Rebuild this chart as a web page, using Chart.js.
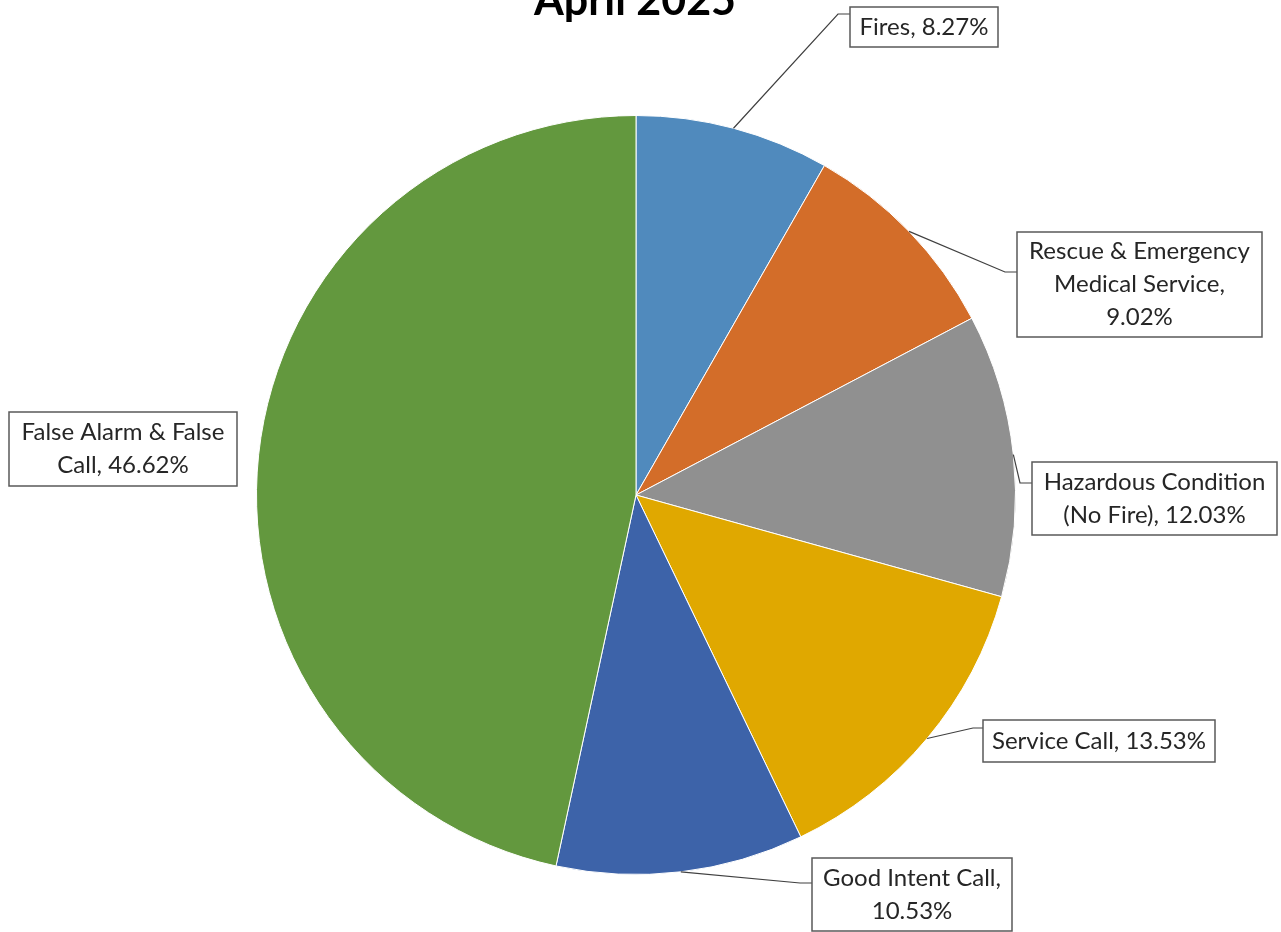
<!DOCTYPE html>
<html>
<head>
<meta charset="utf-8">
<title>April 2025</title>
<script src="https://cdn.jsdelivr.net/npm/chart.js@4.4.1/dist/chart.umd.min.js"></script>
<style>
    body { margin: 0; background: #ffffff; }
    #chart { display: block; }
</style>
</head>
<body>
<canvas id="chart" width="1281" height="932"></canvas>
<script>
// ========================================
// DATA
// ========================================

const chartTitle = 'April 2025';

const categories = [
    'Fires',
    'Rescue & Emergency Medical Service',
    'Hazardous Condition (No Fire)',
    'Service Call',
    'Good Intent Call',
    'False Alarm & False Call'
];

const percentages = [8.27, 9.02, 12.03, 13.53, 10.53, 46.62];

const sliceColors = ['#508abd', '#d36d29', '#909090', '#e0a800', '#3d63a9', '#63983e'];

// ========================================
// LABEL LAYOUT (box position, elbow of leader line, wrap width)
// ========================================

const labelLayout = [
    { box: [850, 7, 148, 40],     elbow: [838, 14],   wrap: 140 },
    { box: [1017, 232, 245, 105], elbow: [1005, 272], wrap: 228 },
    { box: [1032, 462, 245, 73],  elbow: [1020, 483], wrap: 232 },
    { box: [983, 720, 232, 42],   elbow: [973, 728],  wrap: 228 },
    { box: [812, 858, 200, 73],   elbow: [800, 883],  wrap: 192 },
    { box: [9, 412, 228, 74],     elbow: null,        wrap: 218 }
];

const FONT = '24px Lato, "Open Sans", sans-serif';
const LINE_H = 33;

function wrapText(ctx, text, maxWidth) {
    const words = text.split(' ');
    const lines = [];
    let cur = '';
    words.forEach(w => {
        const test = cur ? cur + ' ' + w : w;
        if (ctx.measureText(test).width > maxWidth && cur) {
            lines.push(cur);
            cur = w;
        } else {
            cur = test;
        }
    });
    if (cur) lines.push(cur);
    return lines;
}

// ========================================
// PLUGIN: title + boxed labels with leader lines
// ========================================

const calloutPlugin = {
    id: 'callouts',
    afterDraw(chart) {
        const ctx = chart.ctx;
        const meta = chart.getDatasetMeta(0);

        ctx.save();

        // title (partially clipped at the top, as in the source)
        ctx.fillStyle = '#000000';
        ctx.font = 'bold 43px Lato, "Open Sans", sans-serif';
        ctx.textAlign = 'center';
        ctx.textBaseline = 'alphabetic';
        ctx.fillText(chartTitle, 635, 15);

        meta.data.forEach((arc, i) => {
            const lay = labelLayout[i];
            const p = arc.getProps(['x', 'y', 'startAngle', 'endAngle', 'outerRadius'], true);
            const mid = (p.startAngle + p.endAngle) / 2;
            const ax = p.x + Math.cos(mid) * p.outerRadius;
            const ay = p.y + Math.sin(mid) * p.outerRadius;
            const [bx, by, bw, bh] = lay.box;

            // leader line
            if (lay.elbow) {
                ctx.strokeStyle = '#404040';
                ctx.lineWidth = 1.2;
                ctx.beginPath();
                ctx.moveTo(ax, ay);
                ctx.lineTo(lay.elbow[0], lay.elbow[1]);
                ctx.lineTo(bx, lay.elbow[1]);
                ctx.stroke();
            }

            // box
            ctx.fillStyle = '#ffffff';
            ctx.fillRect(bx, by, bw, bh);
            ctx.strokeStyle = '#595959';
            ctx.lineWidth = 1.5;
            ctx.strokeRect(bx, by, bw, bh);

            // text
            ctx.font = FONT;
            ctx.fillStyle = '#262626';
            ctx.textAlign = 'center';
            ctx.textBaseline = 'middle';
            const text = categories[i] + ', ' + percentages[i].toFixed(2) + '%';
            const lines = wrapText(ctx, text, lay.wrap);
            const cy = by + bh / 2;
            lines.forEach((ln, k) => {
                const y = cy + (k - (lines.length - 1) / 2) * LINE_H;
                ctx.fillText(ln, bx + bw / 2, y);
            });
        });

        ctx.restore();
    }
};

// ========================================
// CHART
// ========================================

new Chart(document.getElementById('chart'), {
    type: 'pie',
    data: {
        labels: categories,
        datasets: [{
            data: percentages,
            backgroundColor: sliceColors,
            borderColor: '#ffffff',
            borderWidth: 1
        }]
    },
    options: {
        responsive: false,
        animation: false,
        layout: {
            padding: { top: 115, bottom: 57, left: 256, right: 265 }
        },
        plugins: {
            legend: { display: false },
            title: { display: false },
            tooltip: { enabled: false }
        }
    },
    plugins: [calloutPlugin]
});
</script>
</body>
</html>
